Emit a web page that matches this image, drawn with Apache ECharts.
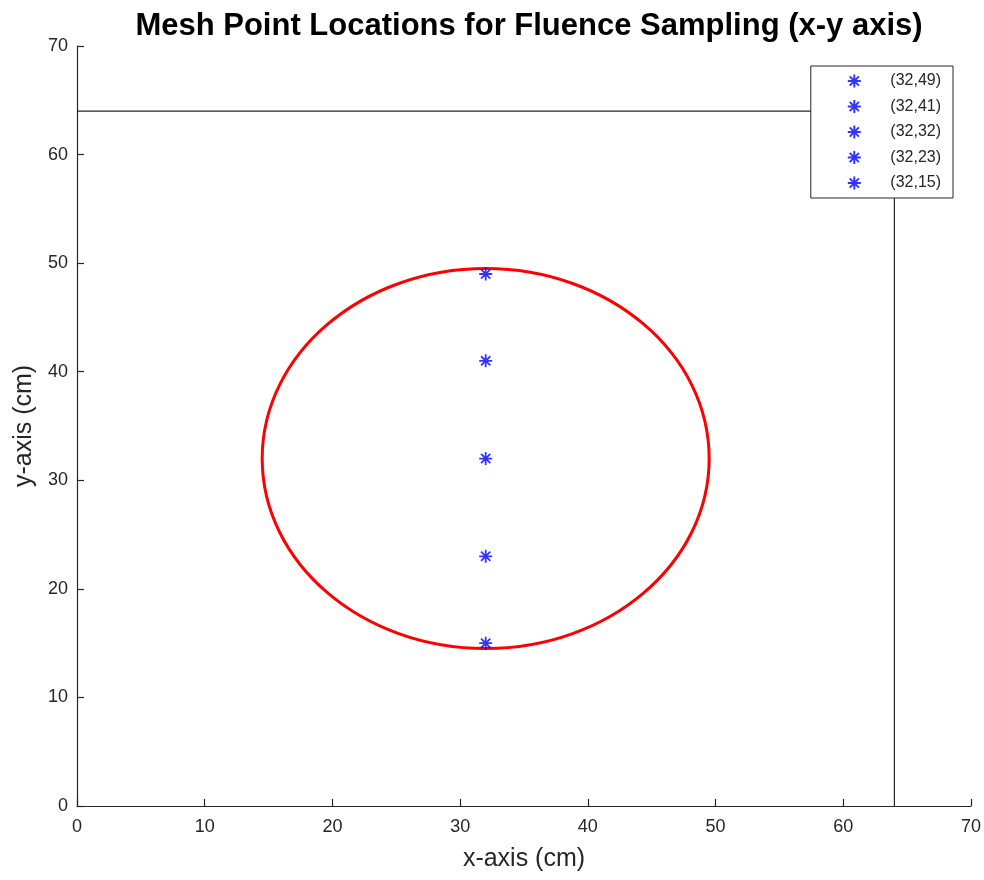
<!DOCTYPE html>
<html>
<head>
<meta charset="utf-8">
<script src="https://cdn.jsdelivr.net/npm/echarts@6/dist/echarts.min.js"></script>
<style>html,body{margin:0;padding:0;background:#fff}#c{width:984px;height:880px}</style>
</head>
<body>
<div id="c"></div>
<script>
// ---- data ----
const meshX = [32, 32, 32, 32, 32];
const meshY = [49, 41, 32, 23, 15];
const meshNames = ['(32,49)', '(32,41)', '(32,32)', '(32,23)', '(32,15)'];
const circleCenter = [32, 32];
const circleRadius = 17.5;
const boundaryX = [0, 64, 64];
const boundaryY = [64, 64, 0];
const axisTicks = [0, 10, 20, 30, 40, 50, 60, 70];

const FONT = '"Liberation Sans", Arial, sans-serif';
const TXT = '#262626';
const ASTER = 'path://M0,-10L0,10M-10,0L10,0M-7.1,-7.1L7.1,7.1M-7.1,7.1L7.1,-7.1';

const chart = echarts.init(document.getElementById('c'), null, {renderer: 'canvas'});

const meshSeries = meshNames.map((n, i) => ({
  name: n,
  type: 'scatter',
  data: [[meshX[i], meshY[i]]],
  symbol: ASTER,
  symbolSize: 13,
  itemStyle: {color: 'rgba(0,0,0,0)', borderColor: '#0000ff', borderWidth: 1.8},
  z: 5
}));

const axisCommon = {
  type: 'value',
  min: axisTicks[0],
  max: axisTicks[axisTicks.length - 1],
  interval: 10,
  splitLine: {show: false},
  axisLine: {show: true, onZero: false, lineStyle: {color: TXT, width: 1.2}},
  axisTick: {show: true, inside: true, length: 7, lineStyle: {color: TXT, width: 1.2}},
  nameLocation: 'middle',
  nameTextStyle: {fontFamily: FONT, fontSize: 25, color: TXT}
};

chart.setOption({
  animation: false,
  backgroundColor: '#fff',
  title: {
    text: 'Mesh Point Locations for Fluence Sampling (x-y axis)',
    left: 524, textAlign: 'center', top: 6,
    textStyle: {fontFamily: FONT, fontSize: 31, fontWeight: 'bold', color: '#000'}
  },
  grid: {left: 77, right: 12, top: 46, bottom: 74, containLabel: false},
  legend: {
    orient: 'vertical',
    right: 31, top: 66,
    padding: [7, 12, 7, 36],
    itemWidth: 62, itemHeight: 13, itemGap: 9.5,
    backgroundColor: '#fff',
    borderColor: '#262626', borderWidth: 1,
    data: meshNames,
    textStyle: {fontFamily: FONT, fontSize: 16, color: TXT}
  },
  xAxis: Object.assign({}, axisCommon, {
    name: 'x-axis (cm)', nameGap: 41,
    axisLabel: {fontFamily: FONT, fontSize: 18, color: TXT, margin: 12}
  }),
  yAxis: Object.assign({}, axisCommon, {
    name: 'y-axis (cm)', nameGap: 40,
    axisLabel: {fontFamily: FONT, fontSize: 18, color: TXT, margin: 9}
  }),
  series: [
    {
      type: 'line',
      data: boundaryX.map((x, i) => [x, boundaryY[i]]),
      symbol: 'none',
      lineStyle: {color: '#262626', width: 1.2},
      silent: true,
      z: 2
    },
    {
      type: 'custom',
      data: [[circleCenter[0], circleCenter[1], circleRadius]],
      renderItem: function (params, api) {
        const c = api.coord([api.value(0), api.value(1)]);
        const s = api.size([api.value(2), api.value(2)]);
        return {
          type: 'ellipse',
          shape: {cx: c[0], cy: c[1], rx: s[0], ry: s[1]},
          style: {fill: 'none', stroke: '#ff0000', lineWidth: 3}
        };
      },
      silent: true,
      clip: false,
      z: 3
    }
  ].concat(meshSeries)
});
</script>
</body>
</html>
